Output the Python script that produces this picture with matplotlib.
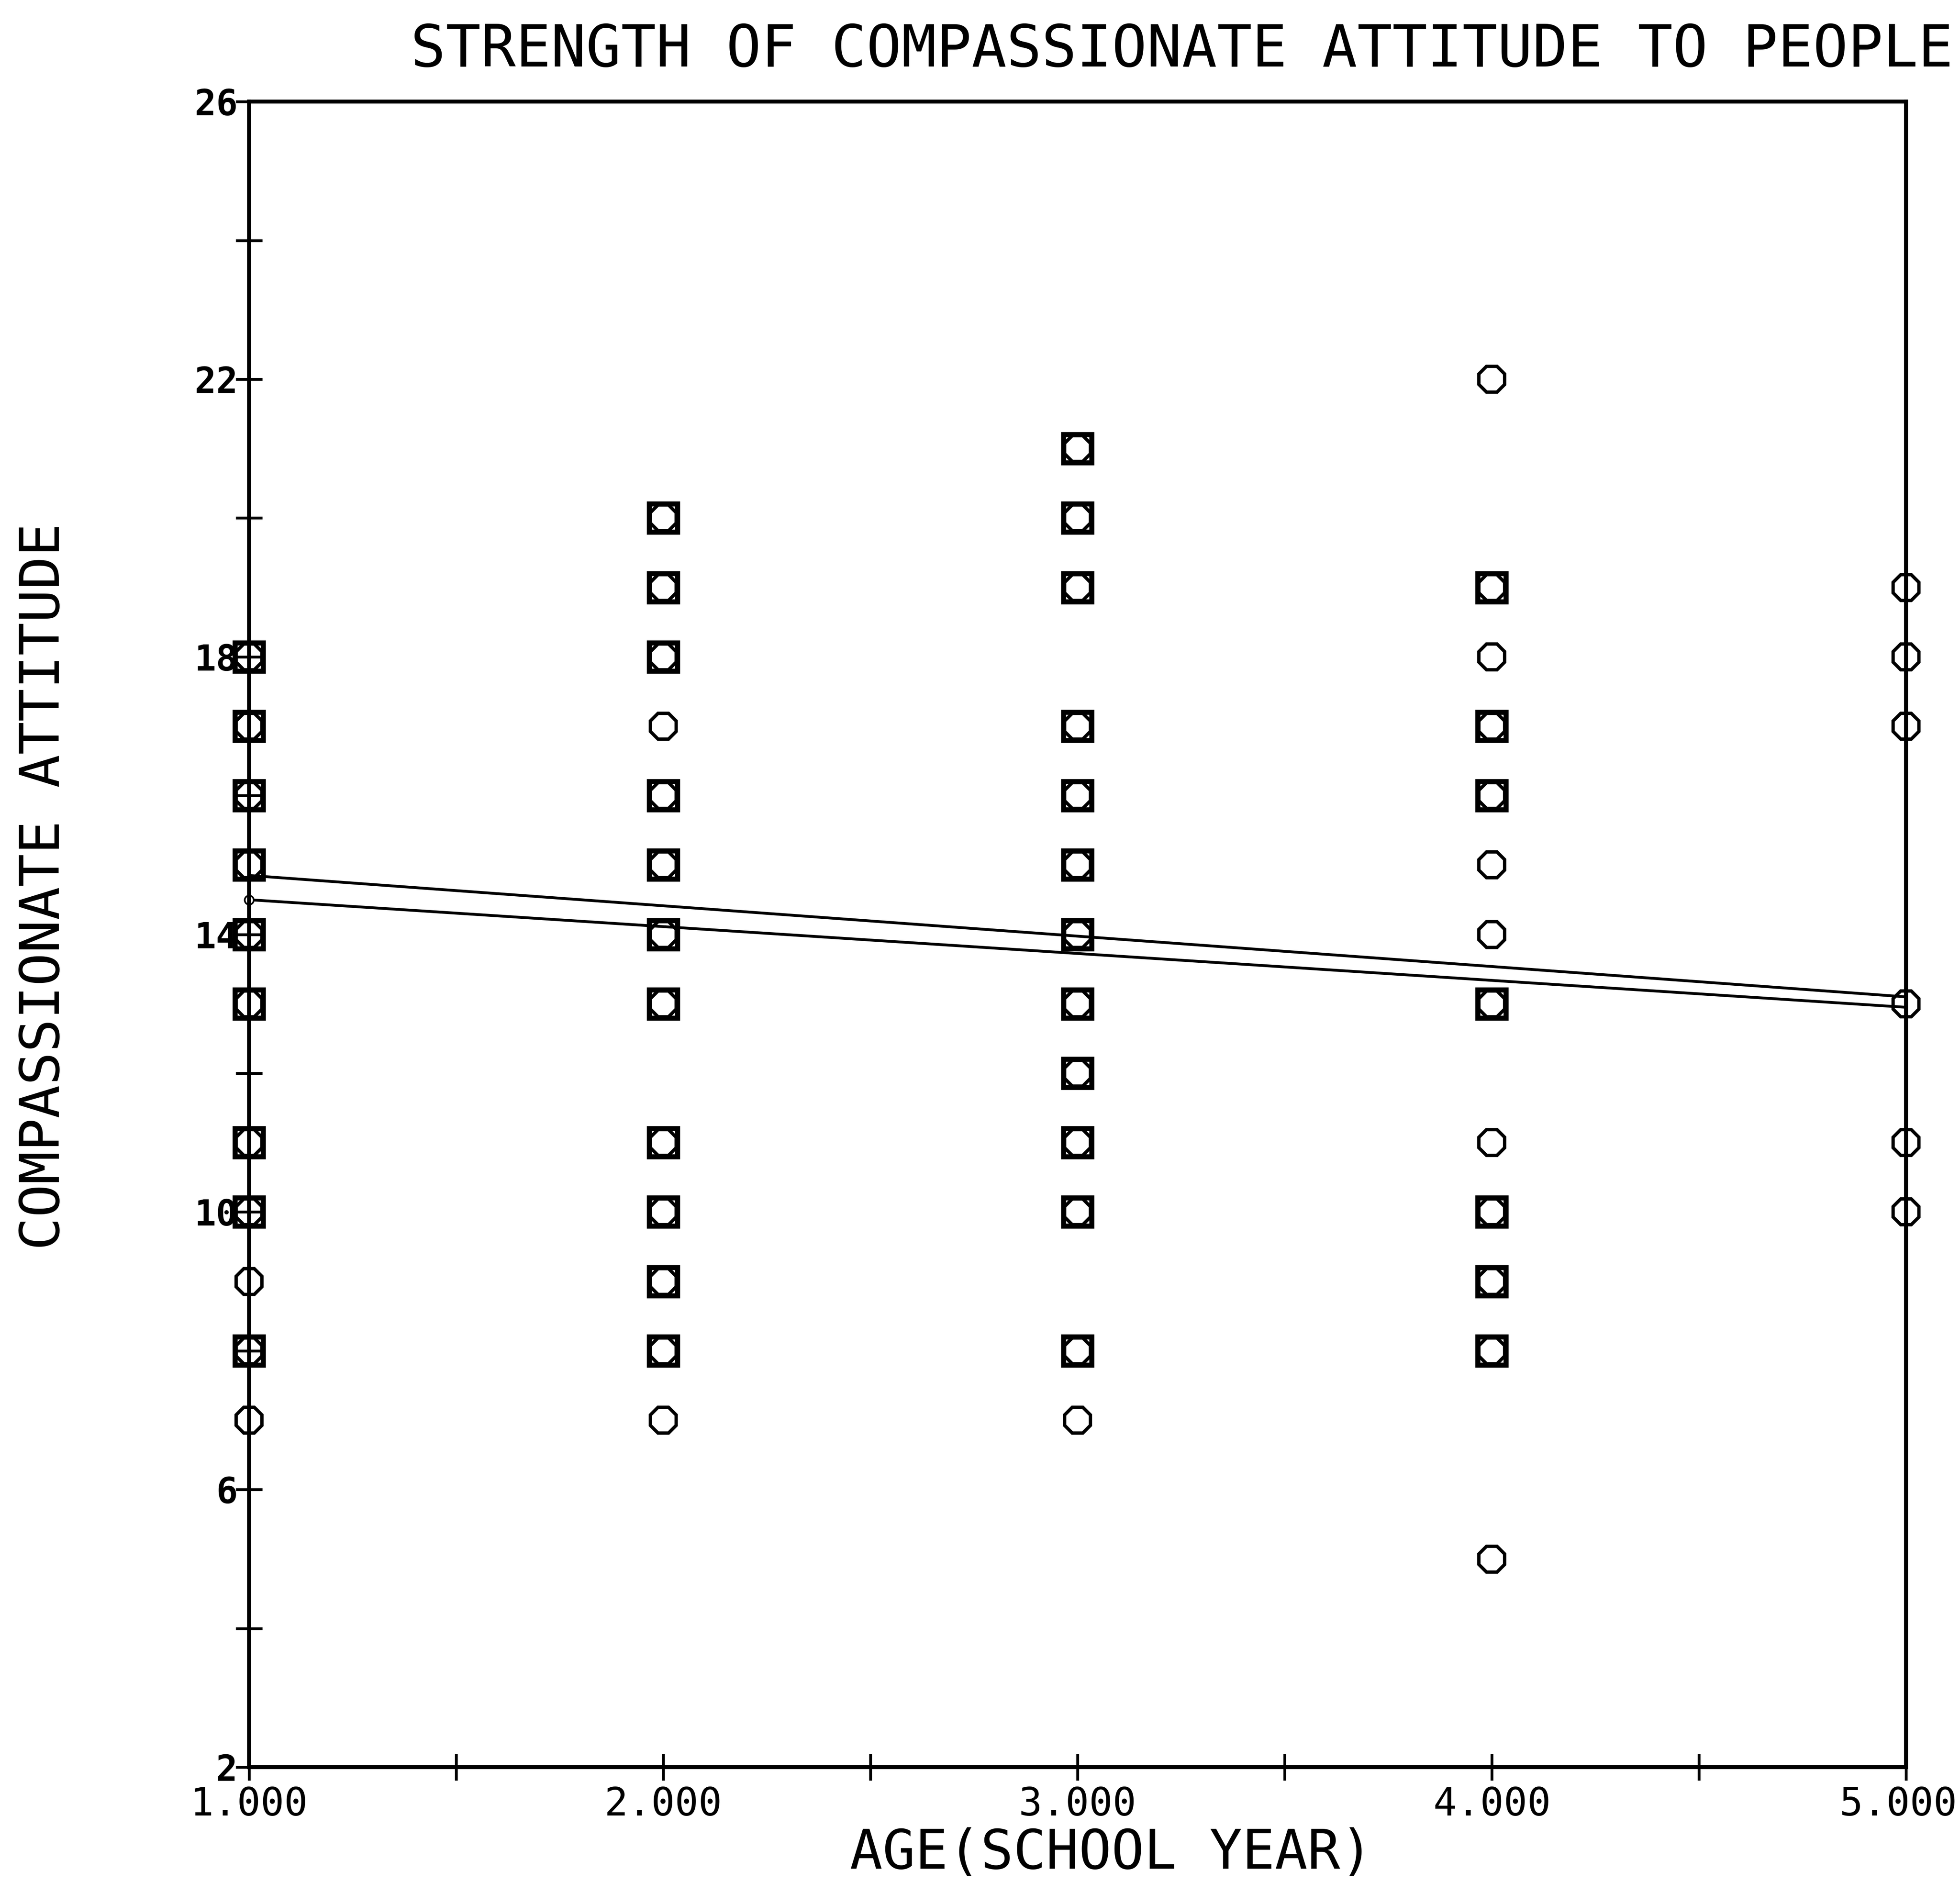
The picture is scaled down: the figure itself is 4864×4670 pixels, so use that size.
'''
Compassionate attitude vs school year scatter, two groups with fitted lines
'''

import numpy as np
import matplotlib.pyplot as plt
from matplotlib.transforms import ScaledTranslation

# circle markers (every observed score per school year)
circle_year = [1]*11 + [2]*13 + [3]*13 + [4]*13 + [5]*6
circle_score = [18, 17, 16, 15, 14, 13, 11, 10, 9, 8, 7,
                20, 19, 18, 17, 16, 15, 14, 13, 11, 10, 9, 8, 7,
                21, 20, 19, 17, 16, 15, 14, 13, 12, 11, 10, 8, 7,
                22, 19, 18, 17, 16, 15, 14, 13, 11, 10, 9, 8, 5,
                19, 18, 17, 13, 11, 10]

# square markers (second group, drawn under the circles)
square_year = [1]*9 + [2]*11 + [3]*12 + [4]*7
square_score = [18, 17, 16, 15, 14, 13, 11, 10, 8,
                20, 19, 18, 16, 15, 14, 13, 11, 10, 9, 8,
                21, 20, 19, 17, 16, 15, 14, 13, 12, 11, 10, 8,
                19, 17, 16, 13, 10, 9, 8]

fit_year = [1, 5]
fit_upper = [14.85, 13.1]
fit_lower = [14.5, 12.95]

x_ticks = [1.0, 1.5, 2.0, 2.5, 3.0, 3.5, 4.0, 4.5, 5.0]
x_labels = ['1.000', '', '2.000', '', '3.000', '', '4.000', '', '5.000']
y_ticks = [2, 4, 6, 8, 10, 12, 14, 16, 18, 20, 22, 24, 26]
y_labels = ['2', '', '6', '', '10', '', '14', '', '18', '', '22', '', '26']


def main():
    plt.rcParams['font.family'] = ['DejaVu Sans Mono', 'DejaVu Sans']

    fig = plt.figure(figsize=(48.64, 46.70), dpi=100)
    ax = fig.add_axes([0.127, 0.061, 0.8455, 0.885])

    ax.plot(square_year, square_score, linestyle='none', marker='s',
            ms=50, mfc='none', mec='black', mew=9, clip_on=False)
    ax.plot(circle_year, circle_score, linestyle='none', marker='8',
            ms=50, mfc='none', mec='black', mew=6, clip_on=False)

    ax.plot(fit_year, fit_upper, color='black', lw=5, clip_on=False)
    ax.plot(fit_year, fit_lower, color='black', lw=5, marker='o',
            markevery=[0], ms=16, mfc='white', mec='black', mew=3,
            clip_on=False)

    ax.set_xlim(1, 5)
    ax.set_ylim(2, 26)
    ax.set_xticks(x_ticks)
    ax.set_xticklabels(x_labels)
    ax.set_yticks(y_ticks)
    ax.set_yticklabels(y_labels, fontweight='bold')

    for s in ax.spines.values():
        s.set_linewidth(7)
    ax.tick_params(axis='both', direction='inout', length=48, width=5)
    ax.tick_params(axis='x', labelsize=70, pad=9)
    ax.tick_params(axis='y', labelsize=64, pad=-4)

    # last x label sits a bit left of its tick, as on the original plot
    last = ax.get_xticklabels()[-1]
    last.set_transform(last.get_transform()
                       + ScaledTranslation(-0.2, 0, fig.dpi_scale_trans))

    fig.text(0.603, 0.9734, 'STRENGTH OF COMPASSIONATE ATTITUDE TO PEOPLE',
             ha='center', va='center', fontsize=104)
    fig.text(0.0224, 0.529, 'COMPASSIONATE ATTITUDE', rotation=90,
             ha='center', va='center', fontsize=98)
    fig.text(0.567, 0.0152, 'AGE(SCHOOL YEAR)',
             ha='center', va='center', fontsize=97)

    fig.savefig('out.png', dpi=100)


if __name__ == '__main__':
    main()
